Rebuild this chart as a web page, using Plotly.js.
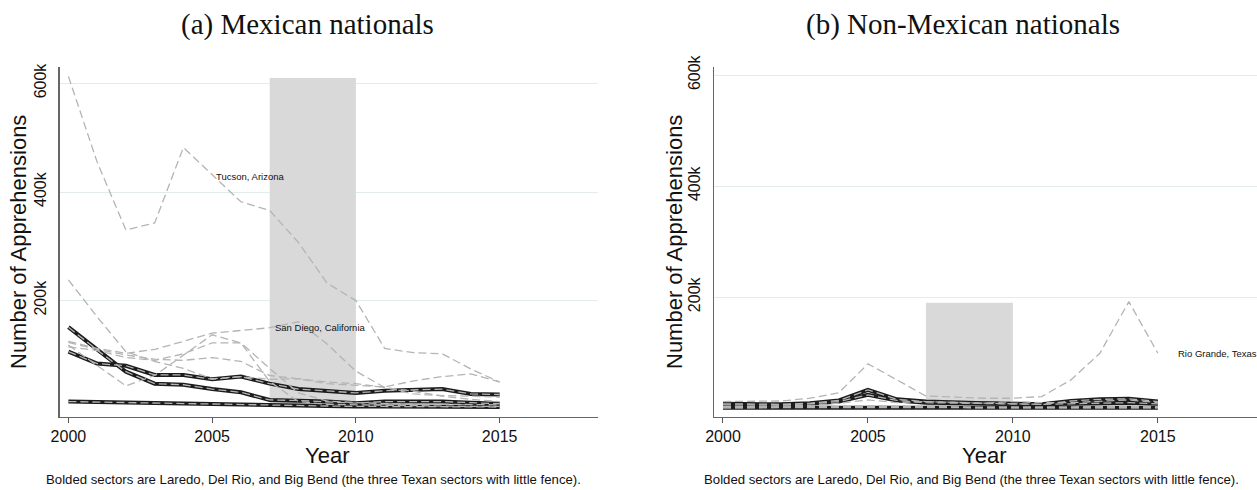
<!DOCTYPE html>
<html>
<head>
<meta charset="utf-8">
<script src="https://cdn.plot.ly/plotly-3.0.1.min.js"></script>
<style>
html,body{margin:0;padding:0;background:#fff;}
#chart{width:1257px;height:490px;}
</style>
</head>
<body>
<div id="chart"></div>
<script>
// ---- data (thousands of apprehensions) ----
const years = [2000,2001,2002,2003,2004,2005,2006,2007,2008,2009,2010,2011,2012,2013,2014,2015];

const sectors = ["San Diego","El Centro","Yuma","Tucson","El Paso","Big Bend","Del Rio","Laredo","Rio Grande Valley"];
const boldSectors = ["Big Bend","Del Rio","Laredo"];

// (a) Mexican nationals
const mexSanDiego = [125,112,103,110,125,140,145,150,161,120,70,40,28,25,24,22];
const mexElCentro = [238,170,106,88,75,56,60,55,56,50,47,40,33,24,18,14];
const mexYuma     = [118,80,43,62,100,137,122,51,14,9,8,7,6,6,5,5];
const mexTucson   = [613,455,330,343,482,432,382,366,307,232,200,112,104,102,74,50];
const mexElPaso   = [115,108,95,90,102,122,122,75,30,15,12,10,9,9,8,8];
const mexBigBend  = [14,13,12,11,11,10,8,7,6,6,5,5,5,4,4,4];
const mexDelRio   = [151,109,69,47,45,37,31,17,16,14,11,14,14,14,12,10];
const mexLaredo   = [106,84,80,63,63,55,60,47,37,33,30,34,36,37,28,27];
const mexRGV      = [123,110,100,92,90,95,88,62,56,47,44,41,52,60,65,50];

// (b) Non-Mexican nationals
const nmxSanDiego = [2,2,2,2,3,4,4,3,2,2,2,2,2,3,3,3];
const nmxElCentro = [1,1,1,1,2,3,3,2,2,1,1,1,1,1,1,1];
const nmxYuma     = [1,1,1,1,1,2,3,2,1,1,1,1,1,1,1,1];
const nmxTucson   = [3,3,4,5,9,15,10,12,11,9,12,10,10,13,15,10];
const nmxElPaso   = [1,1,2,2,3,4,3,2,1,1,1,1,1,1,1,1];
const nmxBigBend  = [1,1,1,1,1,2,1,1,1,1,1,1,1,1,1,1];
const nmxDelRio   = [8,7,7,9,14,33,16,12,10,9,8,7,8,9,10,8];
const nmxLaredo   = [6,6,6,8,12,24,14,10,9,8,7,7,13,16,17,12];
const nmxRGV      = [12,12,13,18,28,80,51,22,20,18,18,21,51,99,192,99];

const mexSeries = [mexSanDiego,mexElCentro,mexYuma,mexTucson,mexElPaso,mexBigBend,mexDelRio,mexLaredo,mexRGV];
const nmxSeries = [nmxSanDiego,nmxElCentro,nmxYuma,nmxTucson,nmxElPaso,nmxBigBend,nmxDelRio,nmxLaredo,nmxRGV];

// fence-construction period shading
const fenceStart = 2007, fenceEnd = 2010;
const fenceBase = 5;
const fenceTopMex = 610, fenceTopNonMex = 190;

const yTickVals = [200,400,600];
const yTickText = ["200k","400k","600k"];
const xTickVals = [2000,2005,2010,2015];

const panelTitles = ["(a) Mexican nationals","(b) Non-Mexican nationals"];
const caption = "Bolded sectors are Laredo, Del Rio, and Big Bend (the three Texan sectors with little fence).";

// ---- traces ----
const traces = [];
function addPanel(series, xa, ya){
  sectors.forEach((s,i)=>{
    if(boldSectors.includes(s)){
      traces.push({x:years,y:series[i],xaxis:xa,yaxis:ya,type:'scatter',mode:'lines',
        name:s,line:{color:'#1c1c1c',width:4},hoverinfo:'name+y',showlegend:false});
    }
  });
  sectors.forEach((s,i)=>{
    traces.push({x:years,y:series[i],xaxis:xa,yaxis:ya,type:'scatter',mode:'lines',
      name:s,line:{color:'#b4b4b4',width:1.3,dash:'8px,4px'},hoverinfo:'name+y',showlegend:false});
  });
}
addPanel(mexSeries,'x','y');
addPanel(nmxSeries,'x2','y2');

// ---- layout ----
const W=1257,H=490;
const tickFont={family:'Liberation Sans, Arial, sans-serif',size:16,color:'#111'};
function xax(domain){
  return {domain:domain,range:[1999.69,2018.42],tickvals:xTickVals,ticks:'outside',ticklen:5,
    tickcolor:'#555',tickwidth:1,showline:true,linecolor:'#666',linewidth:1.2,showgrid:false,
    zeroline:false,tickfont:tickFont,fixedrange:true};
}
function yax(range,anchor){
  return {domain:[0.149,0.863],range:range,tickvals:yTickVals,ticktext:yTickText,tickangle:-90,
    ticks:'',showline:true,linecolor:'#666',linewidth:1.2,showgrid:true,gridcolor:'#e3ecec',
    gridwidth:1,zeroline:false,tickfont:tickFont,anchor:anchor,ticklabelstandoff:6,fixedrange:true};
}

const labelFont={family:'Liberation Sans, Arial, sans-serif',size:9.5,color:'#111'};
const titleFont={family:'Liberation Serif, Times New Roman, serif',size:29,color:'#111'};
const axTitleFont={family:'Liberation Sans, Arial, sans-serif',size:22,color:'#111'};
const capFont={family:'Liberation Sans, Arial, sans-serif',size:13.2,color:'#111'};

const iTucson = sectors.indexOf("Tucson");
const iSD = sectors.indexOf("San Diego");
const iRGV = sectors.indexOf("Rio Grande Valley");

const annotations = [
  {text:panelTitles[0],xref:'paper',yref:'paper',x:307/W,y:1-25/H,xanchor:'center',yanchor:'middle',showarrow:false,font:titleFont},
  {text:panelTitles[1],xref:'paper',yref:'paper',x:963/W,y:1-25/H,xanchor:'center',yanchor:'middle',showarrow:false,font:titleFont},
  {text:'Number of Apprehensions',xref:'paper',yref:'paper',x:19/W,y:1-242/H,textangle:-90,xanchor:'center',yanchor:'middle',showarrow:false,font:axTitleFont},
  {text:'Number of Apprehensions',xref:'paper',yref:'paper',x:675/W,y:1-242/H,textangle:-90,xanchor:'center',yanchor:'middle',showarrow:false,font:axTitleFont},
  {text:'Year',xref:'paper',yref:'paper',x:327/W,y:1-455/H,xanchor:'center',yanchor:'middle',showarrow:false,font:axTitleFont},
  {text:'Year',xref:'paper',yref:'paper',x:984/W,y:1-455/H,xanchor:'center',yanchor:'middle',showarrow:false,font:axTitleFont},
  {text:caption,xref:'paper',yref:'paper',x:313/W,y:1-479/H,xanchor:'center',yanchor:'middle',showarrow:false,font:capFont},
  {text:caption,xref:'paper',yref:'paper',x:971/W,y:1-479/H,xanchor:'center',yanchor:'middle',showarrow:false,font:capFont},
  {text:'Tucson, Arizona',xref:'x',yref:'y',x:years[5],y:mexSeries[iTucson][5],xanchor:'left',yanchor:'middle',xshift:2,yshift:-2,showarrow:false,font:labelFont},
  {text:'San Diego, California',xref:'x',yref:'y',x:years[7],y:mexSeries[iSD][7],xanchor:'left',yanchor:'middle',xshift:3,showarrow:false,font:labelFont},
  {text:'Rio Grande, Texas',xref:'x2',yref:'y2',x:years[15],y:nmxSeries[iRGV][15],xanchor:'left',yanchor:'middle',xshift:18,showarrow:false,font:labelFont}
];

const shapes = [
  {type:'rect',xref:'x',yref:'y',x0:fenceStart,x1:fenceEnd,y0:fenceBase,y1:fenceTopMex,fillcolor:'#d9d9d9',line:{width:0},layer:'between'},
  {type:'rect',xref:'x2',yref:'y2',x0:fenceStart,x1:fenceEnd,y0:fenceBase,y1:fenceTopNonMex,fillcolor:'#d9d9d9',line:{width:0},layer:'between'}
];

const layout = {
  width:W,height:H,margin:{l:0,r:0,t:0,b:0},paper_bgcolor:'#fff',plot_bgcolor:'#fff',
  showlegend:false,
  xaxis:xax([59.5/W,598/W]),
  yaxis:yax([-14.4,630],'x'),
  xaxis2:Object.assign(xax([714/W,1]),{anchor:'y2'}),
  yaxis2:yax([-15.8,614.4],'x2'),
  annotations:annotations,shapes:shapes
};
layout.xaxis.anchor='y';

Plotly.newPlot('chart',traces,layout,{displayModeBar:false,staticPlot:true});
</script>
</body>
</html>
